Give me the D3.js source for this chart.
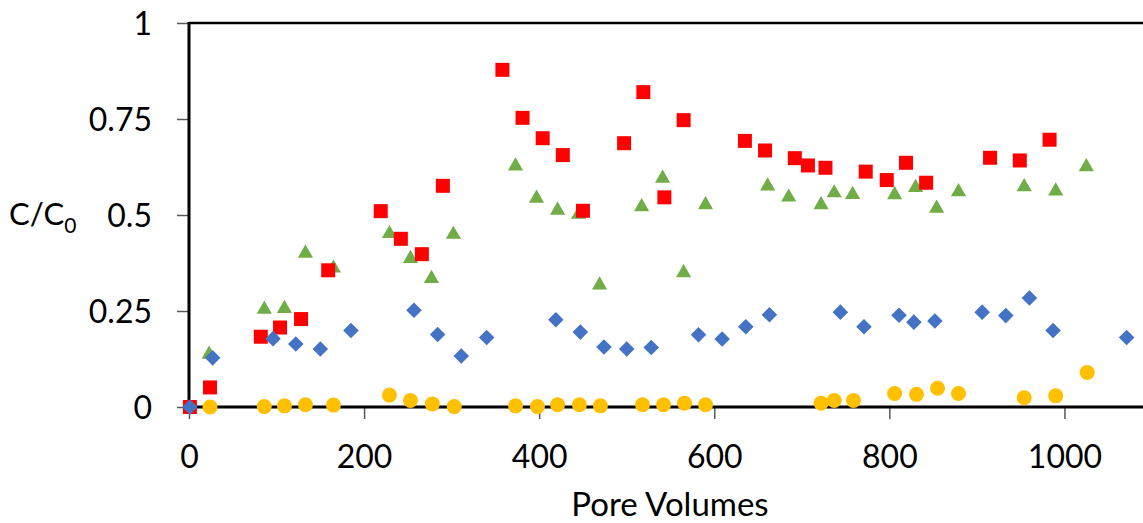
<!DOCTYPE html>
<html lang="en"><head>
<meta charset="utf-8">
<title>C/C0 vs Pore Volumes</title>
<script src="https://cdn.jsdelivr.net/npm/d3@7"></script>
<style>
  body { margin: 0; background: #fff; }
  text { font-family: Lato, "Open Sans", sans-serif; fill: #000; }
</style>
</head>
<body>
<script>
// data: [pore volumes, C/C0]
var blue = [[1,0],[27,0.128],[96,0.178],[122,0.164],[150,0.151],[185,0.199],[257,0.252],[284,0.189],
  [311,0.133],[340,0.181],[419,0.227],[447,0.195],[474,0.156],[500,0.151],[528,0.155],[582,0.188],
  [609,0.177],[636,0.209],[663,0.240],[744,0.247],[771,0.209],[811,0.239],[828,0.221],[852,0.224],
  [906,0.247],[933,0.238],[960,0.284],[987,0.199],[1071,0.181]];
var red = [[1,0],[24,0.051],[82,0.183],[104,0.207],[128,0.229],[159,0.356],[219,0.510],[242,0.438],
  [266,0.398],[290,0.576],[358,0.878],[381,0.753],[404,0.700],[427,0.656],[450,0.511],[497,0.687],
  [519,0.820],[543,0.546],[565,0.747],[635,0.693],[658,0.668],[692,0.648],[707,0.629],[727,0.623],
  [773,0.613],[797,0.591],[819,0.636],[842,0.584],[915,0.649],[949,0.642],[983,0.696]];
var green = [[23,0.140],[86,0.257],[109,0.259],[133,0.403],[165,0.364],[229,0.454],[253,0.389],
  [277,0.337],[302,0.452],[373,0.630],[397,0.546],[421,0.515],[445,0.504],[469,0.320],[517,0.524],
  [541,0.598],[565,0.352],[590,0.529],[661,0.578],[685,0.549],[722,0.529],[737,0.560],[758,0.556],
  [806,0.555],[830,0.574],[854,0.520],[879,0.563],[954,0.576],[990,0.565],[1025,0.628]];
var yellow = [[24,0],[86,0.001],[109,0.003],[133,0.006],[165,0.005],[229,0.031],[253,0.017],
  [278,0.008],[303,0.001],[373,0.003],[398,0.001],[421,0.006],[446,0.006],[470,0.003],[518,0.006],
  [542,0.006],[566,0.010],[590,0.006],[722,0.010],[737,0.017],[759,0.017],[806,0.035],[831,0.033],
  [855,0.049],[879,0.035],[954,0.024],[990,0.029],[1026,0.090]];
var xTicks = [0, 200, 400, 600, 800, 1000];
var yTicks = [0, 0.25, 0.5, 0.75, 1];

var w = 1143, h = 523;
var svg = d3.select("body").append("svg").attr("width", w).attr("height", h);

var x = d3.scaleLinear().domain([0, 1100]).range([189, 1152]);
var y = d3.scaleLinear().domain([0, 1]).range([407, 23]);

// axes
var yAxis = d3.axisLeft(y).tickValues(yTicks).tickSize(12).tickPadding(25)
  .tickFormat(function(d) { return String(d); });
var gy = svg.append("g").attr("transform", "translate(189,0)").call(yAxis);
gy.select(".domain").remove();
gy.selectAll(".tick line").attr("stroke", "#595959").attr("stroke-width", 1.5);
gy.selectAll(".tick text").attr("font-size", 32).attr("dy", "0.35em");

var xAxis = d3.axisBottom(x).tickValues(xTicks).tickSize(12).tickPadding(26)
  .tickFormat(function(d) { return String(d); });
var gx = svg.append("g").attr("transform", "translate(0,407)").call(xAxis);
gx.select(".domain").remove();
gx.selectAll(".tick line").attr("stroke", "#595959").attr("stroke-width", 1.5);
gx.selectAll(".tick text").attr("font-size", 32);

svg.append("line").attr("x1", 189).attr("x2", w).attr("y1", y(1)).attr("y2", y(1))
  .attr("stroke", "#000").attr("stroke-width", 2.5);
svg.append("line").attr("x1", 189).attr("x2", w).attr("y1", y(0)).attr("y2", y(0))
  .attr("stroke", "#000").attr("stroke-width", 3);
svg.append("line").attr("x1", 189).attr("x2", 189).attr("y1", y(1) - 1).attr("y2", y(0) + 1)
  .attr("stroke", "#000").attr("stroke-width", 3);

// axis titles
var yt = svg.append("text").attr("x", 9).attr("y", 225).attr("font-size", 31);
yt.append("tspan").text("C/C");
yt.append("tspan").attr("font-size", 21).attr("dy", 8).text("0");

svg.append("text").attr("x", 670).attr("y", 516).attr("text-anchor", "middle")
  .attr("font-size", 33).text("Pore Volumes");

// markers
svg.append("g").selectAll("path").data(green).enter().append("path")
  .attr("d", d3.symbol(d3.symbolTriangle, 100))
  .attr("transform", function(d) { return "translate(" + x(d[0]) + "," + (y(d[1]) + 1) + ")"; })
  .attr("fill", "#70AD47");

svg.append("g").selectAll("rect").data(red).enter().append("rect")
  .attr("x", function(d) { return x(d[0]) - 7; })
  .attr("y", function(d) { return y(d[1]) - 7; })
  .attr("width", 14).attr("height", 14)
  .attr("fill", "#FF0000");

svg.append("g").selectAll("rect").data(blue).enter().append("rect")
  .attr("x", -5.5).attr("y", -5.5).attr("width", 11).attr("height", 11)
  .attr("transform", function(d) { return "translate(" + x(d[0]) + "," + y(d[1]) + ") rotate(45)"; })
  .attr("fill", "#4472C4");

svg.append("g").selectAll("circle").data(yellow).enter().append("circle")
  .attr("cx", function(d) { return x(d[0]); })
  .attr("cy", function(d) { return y(d[1]); })
  .attr("r", 7.5)
  .attr("fill", "#FFC000");
</script>
</body></html>
